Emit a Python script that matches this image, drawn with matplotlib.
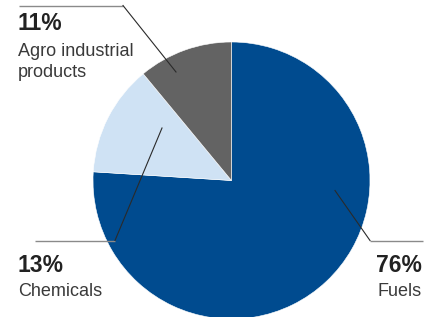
import matplotlib
matplotlib.use("Agg")
import matplotlib.pyplot as plt

categories = ["Fuels", "Chemicals", "Agro industrial\nproducts"]
values = [76, 13, 11]
labels_pct = ["76%", "13%", "11%"]
colors = ["#004b8f", "#cfe2f4", "#636363"]

W, H = 435, 317
fig = plt.figure(figsize=(W / 100, H / 100), dpi=100)
ax = fig.add_axes([0, 0, 1, 1])

def Y(y):
    return H - y

cx, cy, r = 231.5, Y(180.5), 138.5
ax.pie(values, colors=colors, startangle=90, counterclock=False,
       center=(cx, cy), radius=r,
       wedgeprops=dict(edgecolor="white", linewidth=0.4))
ax.set_xlim(0, W)
ax.set_ylim(0, H)
ax.set_aspect("equal")
ax.axis("off")

dark = "#2a2a2a"
grey = "#8a8a8a"
txt = "#3a3a3a"
font = ["Liberation Sans", "DejaVu Sans"]

def hline(hx0, hx1, hy):
    ax.plot([hx0, hx1], [Y(hy), Y(hy)], color=grey, lw=1.0, solid_capstyle="butt")

hline(19, 123, 5.5)
ax.plot([123, 176], [Y(5.5), Y(72)], color=dark, lw=0.8)
hline(35, 115, 240.5)
ax.plot([115, 162], [Y(240.5), Y(128)], color=dark, lw=0.8)
hline(370, 423, 240.5)
ax.plot([335, 370], [Y(190.5), Y(240.5)], color=dark, lw=0.8)

bold = dict(fontsize=16.5, fontweight="bold", color="#222222", family=font, va="baseline")
reg = dict(fontsize=13, color=txt, family=font, va="baseline")

ax.text(18, Y(29.5), labels_pct[2], ha="left", **bold)
ax.text(18, Y(56), "Agro industrial", ha="left", **reg)
ax.text(18, Y(77), "products", ha="left", **reg)

ax.text(18, Y(272), labels_pct[1], ha="left", **bold)
ax.text(18, Y(296), categories[1], ha="left", **reg)

ax.text(422, Y(272), labels_pct[0], ha="right", **bold)
ax.text(422, Y(296), categories[0], ha="right", **reg)

fig.savefig("out.png", dpi=100)
